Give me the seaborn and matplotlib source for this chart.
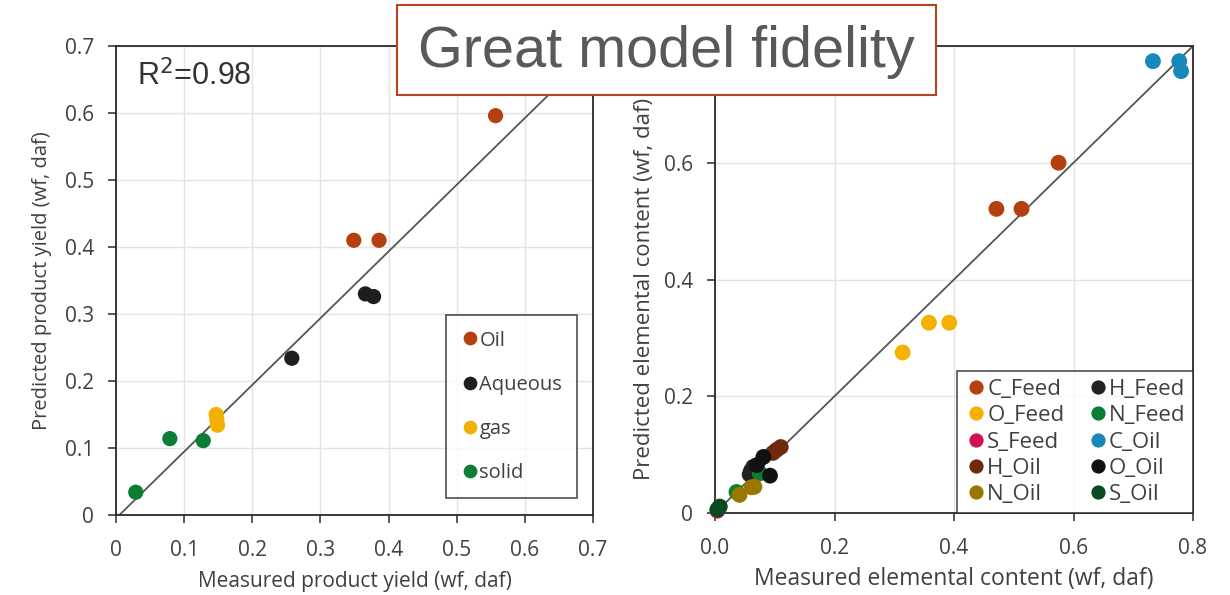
import matplotlib
matplotlib.use("Agg")
import matplotlib.pyplot as plt
from matplotlib.patches import Rectangle
import seaborn as sns
import pandas as pd

# ---------------- data: left panel (product yields) ----------------
yield_phases = ["Oil", "Aqueous", "gas", "solid"]
oil_measured = [0.349, 0.386, 0.557]
oil_predicted = [0.410, 0.410, 0.596]
aqueous_measured = [0.366, 0.378, 0.258]
aqueous_predicted = [0.330, 0.326, 0.234]
gas_measured = [0.147, 0.148, 0.149]
gas_predicted = [0.150, 0.142, 0.134]
solid_measured = [0.079, 0.128, 0.029]
solid_predicted = [0.114, 0.111, 0.034]
yield_colors = ["#B5400F", "#1E1E1E", "#F2B000", "#0B7D35"]
fit_x = [0.005, 0.71]
fit_y = [0.0, 0.702]
r2_text = "R$^2$=0.98"

# ---------------- data: right panel (elemental content) ----------------
element_groups = ["C_Feed", "H_Feed", "O_Feed", "N_Feed", "S_Feed",
                  "C_Oil", "H_Oil", "O_Oil", "N_Oil", "S_Oil"]
cfeed_measured = [0.471, 0.513, 0.575]
cfeed_predicted = [0.521, 0.521, 0.600]
hfeed_measured = [0.060, 0.064, 0.058]
hfeed_predicted = [0.072, 0.079, 0.066]
ofeed_measured = [0.314, 0.358, 0.392]
ofeed_predicted = [0.275, 0.326, 0.326]
nfeed_measured = [0.075, 0.036]
nfeed_predicted = [0.068, 0.036]
sfeed_measured = [0.004]
sfeed_predicted = [0.004]
coil_measured = [0.733, 0.777, 0.780]
coil_predicted = [0.774, 0.774, 0.757]
hoil_measured = [0.097, 0.103, 0.110]
hoil_predicted = [0.103, 0.108, 0.113]
ooil_measured = [0.081, 0.092, 0.070]
ooil_predicted = [0.096, 0.064, 0.082]
noil_measured = [0.066, 0.061, 0.041]
noil_predicted = [0.045, 0.044, 0.031]
soil_measured = [0.008, 0.004]
soil_predicted = [0.011, 0.006]
element_colors = ["#B5400F", "#222222", "#F5B000", "#0B7D35", "#D2104C",
                  "#1787BC", "#6E2A0C", "#111111", "#9A7700", "#0A4A22"]
identity_x = [0.0, 0.8]
identity_y = [0.0, 0.8]

title_text = "Great model fidelity"

# ---------------- tables ----------------
left_df = pd.concat([
    pd.DataFrame({"measured": m, "predicted": p, "phase": n})
    for m, p, n in zip(
        [oil_measured, aqueous_measured, gas_measured, solid_measured],
        [oil_predicted, aqueous_predicted, gas_predicted, solid_predicted],
        yield_phases)
], ignore_index=True)

right_df = pd.concat([
    pd.DataFrame({"measured": m, "predicted": p, "group": n})
    for m, p, n in zip(
        [cfeed_measured, hfeed_measured, ofeed_measured, nfeed_measured, sfeed_measured,
         coil_measured, hoil_measured, ooil_measured, noil_measured, soil_measured],
        [cfeed_predicted, hfeed_predicted, ofeed_predicted, nfeed_predicted, sfeed_predicted,
         coil_predicted, hoil_predicted, ooil_predicted, noil_predicted, soil_predicted],
        element_groups)
], ignore_index=True)

# ---------------- figure ----------------
sns.set_theme(style="white")
plt.rcParams["font.family"] = ["Open Sans", "DejaVu Sans"]
text_col = "#404040"

fig = plt.figure(figsize=(12.3, 5.95), dpi=100)
ax1 = fig.add_axes([116 / 1230, 1 - 515 / 595, 477 / 1230, 469 / 595])
ax2 = fig.add_axes([715 / 1230, 1 - 513 / 595, 478 / 1230, 467 / 595])


def style_axes(ax, lim, step, fmt_x, fmt_y, fs):
    ticks = [round(i * step, 2) for i in range(int(round(lim / step)) + 1)]
    ax.set_xlim(0, lim)
    ax.set_ylim(0, lim)
    ax.set_xticks(ticks)
    ax.set_yticks(ticks)
    ax.set_xticklabels([fmt_x(t) for t in ticks])
    ax.set_yticklabels([fmt_y(t) for t in ticks])
    ax.grid(True, color="#e4e4e4", linewidth=1.0)
    ax.set_axisbelow(True)
    for s in ax.spines.values():
        s.set_visible(True)
        s.set_color("#2a2a2a")
        s.set_linewidth(1.3)
    ax.tick_params(axis="both", direction="out", length=6, width=1.1,
                   color="#2a2a2a", labelsize=fs, labelcolor=text_col,
                   bottom=True, left=True)
    ax.tick_params(axis="y", pad=10)
    ax.tick_params(axis="x", pad=12)


def fmt_plain(t):
    return "0" if t == 0 else f"{t:g}"


# left panel
sns.scatterplot(data=left_df, x="measured", y="predicted", hue="phase",
                hue_order=yield_phases, palette=yield_colors, s=120,
                edgecolor="none", ax=ax1, zorder=3, clip_on=False)
sns.lineplot(x=fit_x, y=fit_y, ax=ax1, color="#555555", linewidth=1.3,
             zorder=2, legend=False)
style_axes(ax1, 0.7, 0.1, fmt_plain, fmt_plain, 15)
ax1.set_xlabel("Measured product yield (wf, daf)", fontsize=15, color=text_col,
               labelpad=7)
ax1.set_ylabel("Predicted product yield (wf, daf)", fontsize=14.5, color=text_col)
ax1.yaxis.set_label_coords(-0.135, 0.5)
ax1.text(0.045, 0.97, r2_text, transform=ax1.transAxes, ha="left", va="top",
         fontsize=22, color="#333333", family=["Liberation Sans", "DejaVu Sans"])
leg1 = ax1.legend(loc="lower left", bbox_to_anchor=(0.692, 0.036),
                  borderaxespad=0, frameon=True, fancybox=False,
                  fontsize=14.5, labelspacing=1.2, handletextpad=0.0,
                  handlelength=0.9, borderpad=0.75, markerscale=0.9)
leg1.get_frame().set_edgecolor("#222222")
leg1.get_frame().set_linewidth(1.2)
for t in leg1.get_texts():
    t.set_color(text_col)

# right panel
sns.scatterplot(data=right_df, x="measured", y="predicted", hue="group",
                hue_order=element_groups, palette=element_colors, s=130,
                edgecolor="none", ax=ax2, zorder=3, clip_on=False)
sns.lineplot(x=identity_x, y=identity_y, ax=ax2, color="#555555", linewidth=1.3,
             zorder=2, legend=False)
style_axes(ax2, 0.8, 0.2, lambda t: f"{t:.1f}", fmt_plain, 15)
ax2.set_xlabel("Measured elemental content (wf, daf)", fontsize=16.5, color=text_col,
               labelpad=6)
ax2.set_ylabel("Predicted elemental content (wf, daf)", fontsize=16, color=text_col)
ax2.yaxis.set_label_coords(-0.125, 0.48)

handles, labels = ax2.get_legend_handles_labels()
row_major = [0, 2, 4, 6, 8, 1, 3, 5, 7, 9]
leg2 = ax2.legend([handles[i] for i in row_major], [labels[i] for i in row_major],
                  ncol=2, loc="lower right", bbox_to_anchor=(1.0, 0.0),
                  borderaxespad=0, frameon=True, fancybox=False, fontsize=16,
                  labelspacing=0.24, handletextpad=0.0, handlelength=1.0,
                  columnspacing=1.0, borderpad=0.35, markerscale=0.9)
leg2.get_frame().set_edgecolor("#222222")
leg2.get_frame().set_linewidth(1.2)
for t in leg2.get_texts():
    t.set_color(text_col)

# title box
box = Rectangle((397 / 1230, 1 - 95 / 595), 539 / 1230, 90 / 595,
                transform=fig.transFigure, facecolor="white", edgecolor="#B5451B",
                linewidth=1.5, zorder=10)
fig.patches.append(box)
fig.text(666.5 / 1230, 1 - 52 / 595, title_text, ha="center", va="center",
         fontsize=41.5, color="#595959", zorder=11,
         family=["Liberation Sans", "DejaVu Sans"])

fig.savefig("out.png", dpi=100)
